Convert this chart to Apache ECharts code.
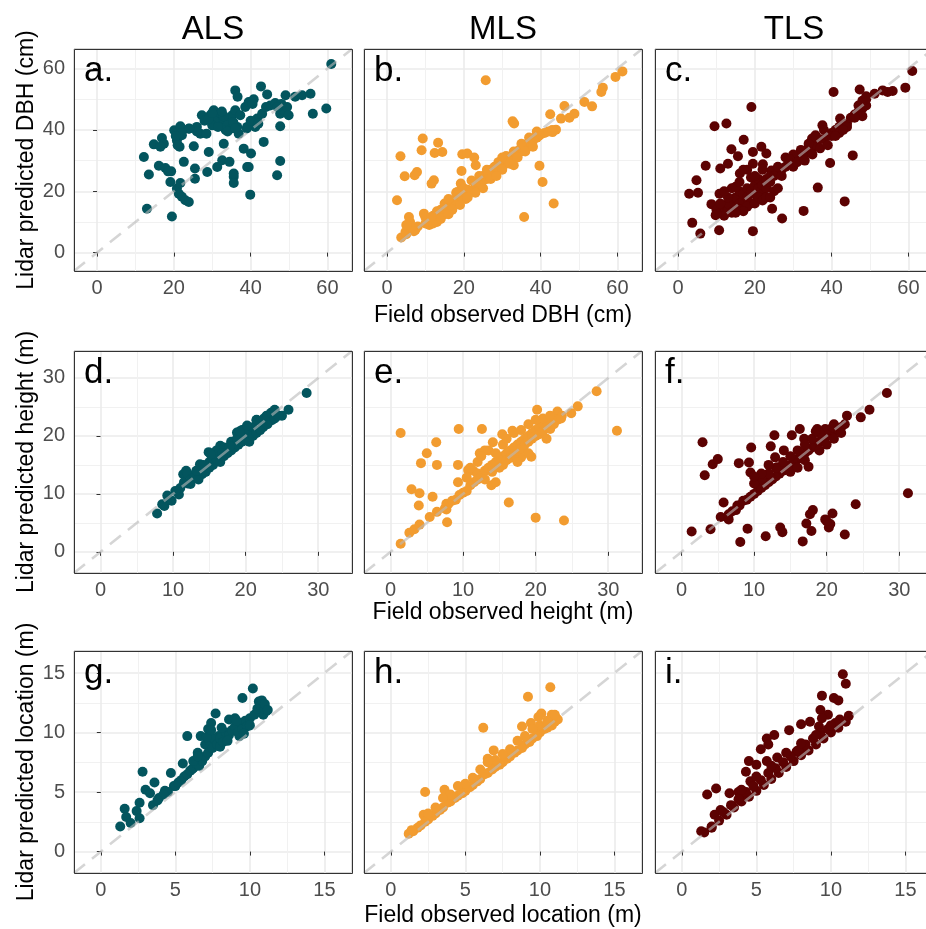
<!DOCTYPE html>
<html><head><meta charset="utf-8">
<script src="https://cdn.jsdelivr.net/npm/echarts@6/dist/echarts.min.js"></script>
<style>html,body{margin:0;padding:0;background:#fff}#c{width:926px;height:929px}</style>
</head><body><div id="c"></div>
<script>
// ---------------- data ----------------
const columns = ['ALS', 'MLS', 'TLS'];
const panelLetters = ['a.', 'b.', 'c.', 'd.', 'e.', 'f.', 'g.', 'h.', 'i.'];
const xTitles = ['Field observed DBH (cm)', 'Field observed height (m)', 'Field observed location (m)'];
const yTitles = ['Lidar predicted DBH (cm)', 'Lidar predicted height (m)', 'Lidar predicted location (m)'];
const axisRanges = [[-6, 66.4], [-3.65, 34.65], [-1.8, 16.85]];
const tickSteps = [20, 10, 5];
const colors = ['#03555E', '#F29C30', '#5C0202'];

const alsDBH = [[61,61.5],[12.2,31.2],[13.5,25.5],[13,14.3],[14.8,35.3],[16.9,37.4],[17.4,35.5],[16.5,34.5],[16.1,28.3],[17.8,27.6],[19.3,26.5],[19.1,23],[19.5,11.8],[20.1,39.9],[21.7,41.2],[20.8,36.6],[21.5,34.5],[22.1,38.3],[20.8,20.9],[21.7,22.7],[21.3,19.2],[22.1,18.2],[23,17.1],[23.9,16.5],[22.6,29.6],[25.2,34.7],[25.5,27.4],[25.5,24.1],[23.9,40.4],[26,41],[26.9,38.8],[27.3,44.8],[28.5,38.8],[28.7,26.3],[29.1,32.8],[29.5,44.8],[30.4,46.4],[31.1,43.7],[31.3,27.9],[32.1,45.3],[32.6,30.1],[33,35.5],[33.4,43.2],[33.9,42.1],[34.7,40.4],[34.5,29.6],[35.2,44.8],[35.6,24.7],[35.6,22.7],[36,52.9],[36.6,50.8],[36,46.4],[36.5,41],[36.9,38.8],[37.3,44.8],[38.2,33.9],[38.6,47.5],[39.1,41],[39.1,27.9],[39.5,27.9],[39.9,18.9],[40.1,32.3],[39.5,49.1],[40.8,50],[41.2,41],[41.7,43.7],[43,45.3],[43.4,36.1],[42.7,54.2],[44.3,51.6],[45.1,48],[46.4,48.8],[46.9,25.2],[47.7,29.9],[47.7,41.2],[47.7,45.3],[48.6,46.4],[49.1,51.3],[49.5,47.5],[49.9,44.8],[51.6,50.8],[53.4,51.3],[55.6,51.8],[56.2,45.3],[59.7,47],[31,44],[32,42],[33,44.5],[34,41.5],[30.5,43],[35.5,42.5],[32.5,46],[33.5,40],[28,43],[30,41.5],[34,39.5],[36,40.5],[31.5,41],[35.6,25.8],[26,39.5],[24,40.5],[22,39],[20.5,38],[21,35],[18.5,26.5],[39,40.5],[40,43],[42,42],[29,43.5],[30,45.5],[40.5,48.5],[48,48.5],[47,47.5],[44,47.5]];

const mlsDBH = [[25.7,56.2],[61.3,59.1],[59.5,57.3],[56.2,53.8],[55.8,52.4],[53.4,47.7],[51.4,49.1],[46.2,47.8],[42.5,45.1],[45.3,43.7],[47.5,44],[48.8,45.3],[32.7,42.8],[33.1,42.1],[9.3,37.2],[9,33.4],[13.3,35.8],[14.4,32.8],[12.4,32.5],[3.5,31.4],[4.6,24.9],[7.8,26.3],[7.2,25.2],[12.2,23.6],[11.6,22.5],[2.6,17.1],[3.7,4.9],[5.7,11.6],[5.7,7.8],[7.4,7.5],[4.8,6.7],[9.6,12.7],[10.9,9.5],[13.5,12.7],[19.6,32.1],[20.9,32.3],[22.7,31],[23.1,28.5],[19.4,26.6],[19.2,22.5],[18.3,19.8],[39.7,28.3],[40.5,23],[43.4,16],[35.7,11.6],[44,40.1],[43.1,39.3],[8,8.5],[10,9.5],[11,10],[12,10.5],[13,11.5],[14,12.5],[15,13.5],[16,14],[17,15.5],[18,16],[19,17],[20,18],[20.5,17.5],[21,19],[22,20],[22.5,20.5],[23,21.5],[24,22],[24.5,22.5],[25,23.5],[26,24],[26.5,25],[27,25.5],[28,26.5],[28.5,27],[29,27.5],[30,28.5],[30.5,29.5],[31,29],[31.5,30],[32,30.5],[32.5,31],[33,31.5],[34,32.5],[34.5,33.5],[35,33],[35.5,34],[36,34.5],[36.5,35.5],[37,35],[37.5,36],[38,36.5],[38.5,37.5],[39,37.5],[39.5,38],[40,38.5],[41,39],[42,39.5],[43,40],[16,15],[18,17.5],[19,18.5],[21,20.5],[23,23],[25,25],[27,27],[29,29.5],[31,31.5],[33,33],[35,35.5],[37,37.5],[39,39.5],[12,12],[14,14],[15,16],[17,17],[13,13.5],[24,25],[26,27],[28,28],[30,31],[22,23.5],[20,21],[18,19.5],[16,17.5],[25,21],[27,24],[30,27],[32,29],[34,31],[33,28.5],[36,33],[38,34.5],[28.5,25],[23,19.5],[21,18],[19,15.5],[17,14],[15,12.5],[13,10],[11,9],[10,11.5],[5,6],[6,8],[7,7],[6,10],[5,9],[12,9.5],[14,11],[16,12.5],[11.5,11.5]];

const tlsDBH = [[61,59.2],[59.2,53.8],[55.9,52.7],[54.6,52.4],[53.3,52.9],[51.2,51.8],[47.3,53.2],[40.5,52.4],[19.1,47.5],[9.5,41.2],[12.6,42.1],[17.1,36.8],[13.9,33.7],[15.6,31.4],[19.5,32.8],[21.7,34.5],[23,32.3],[7.2,28.3],[11,27.4],[13,29],[4.8,23.6],[5.2,19.5],[2.9,19.2],[3.7,9.7],[5.8,6.2],[10.7,7.3],[19.5,7],[10.8,19.2],[8.7,15.8],[9.8,12.2],[16.1,25.8],[19.5,29],[22.1,28.8],[24.3,26.8],[24.5,14.3],[27.1,11.1],[32.7,13.6],[36.4,21.2],[43.4,16.7],[39.6,29.2],[45.5,31.7],[37.6,41.5],[42.2,43.7],[34.9,37.2],[35.8,38.3],[10,14],[11,13],[12,15],[13,14],[14,17],[15,15],[15,18],[16,16],[16,20],[17,17],[17,19],[18,18],[18,21],[19,16],[19,20],[20,19],[20,22],[21,21],[21,24],[22,22],[22,19],[23,24],[23,21],[24,25],[24,23],[25,25],[26,26],[27,27],[27,25],[28,28],[29,29],[30,30],[30,28],[31,31],[32,31],[33,32],[34,34],[35,34],[36,35],[37,37],[38,37],[39,38],[40,39],[41,40],[42,41],[43,42],[44,42],[45,44],[46,45],[47,46],[48,47],[49,48],[49,50],[48,44.5],[46,44],[44,41],[42,39],[40,38],[38,40],[36,37.5],[34,35.5],[32,33.5],[30,32],[28,31],[26,28],[29,30.5],[31,29.5],[33,30],[35,32],[37,34],[39,35],[41,38],[43,40],[47,48],[48,49.5],[49,51],[12,12],[13,16],[14,13],[16,14],[18,15],[17,13.5],[15,13],[11,16],[10,12.5],[20,16],[21,18],[22,17],[23,18],[14,21],[15,21.5],[16,23],[19,24.5],[20,25],[18,27],[22,27],[25,20],[24,18],[26,21],[17,27],[13,18],[12,20]];

const alsHeight = [[7.8,6.6],[8.8,7.9],[9.2,9.7],[9.8,8.8],[10.8,9.9],[11.4,13.4],[11.8,14],[12.4,11.7],[13.7,15.1],[14,13.4],[14.9,17.2],[15.6,16.3],[16.5,18.3],[17.4,17.5],[18.3,18.6],[18.8,20.6],[19.5,19.2],[19.9,21.2],[20.8,20.1],[21.5,22.7],[22.4,21.5],[22.9,23.5],[23.6,22.7],[23.8,24.1],[25,23.5],[25.9,24.5],[28.4,27.4],[11,11],[11.5,12],[12,13.5],[12,11.8],[12.5,12.5],[13,13],[13.5,12.5],[14,14],[14.5,13.8],[15,14.5],[15,15.5],[15.5,15],[16,16],[16,17.5],[16.5,15.5],[17,16.5],[17,18],[17.5,17],[18,17.5],[18,19],[18.5,18],[19,18.5],[19,20],[19.5,19],[19.5,21],[20,20.5],[20,19.5],[20.5,19],[20.5,21],[21,20],[21,21.5],[21.5,22.8],[21.5,20.5],[22,21],[22,22.5],[22.5,23],[23,22],[23,23.5],[23.5,24],[24,23],[24,24.5],[24.5,23.5],[16.8,17],[17.8,18.2],[18.8,19.5],[19.2,20.8],[20.2,21.8],[15.2,16.8],[14.2,15],[13.2,14],[10.3,10.5],[9.5,9],[8.5,8.2]];

const mlsHeight = [[1.4,20.5],[1.4,1.4],[2.9,10.8],[4,10.1],[3.9,8],[2.6,3.3],[3.3,3.9],[4,4.7],[4.2,15.3],[5,17],[6.3,18.9],[6.4,15],[5.8,9.5],[5.4,6],[6.4,6.9],[7.8,5.1],[7.7,7.3],[7.7,8.3],[9.4,21.2],[9.3,15],[9.3,12],[12.6,21.2],[10.7,14.1],[11.4,14],[12.3,17],[13,17.5],[14.1,18.9],[13.9,11.5],[15.4,20.3],[16.3,8.5],[16.8,20.9],[19.4,16.4],[18,16.3],[20.2,24.5],[20,5.9],[23.9,5.4],[23,24.2],[23.6,23.5],[24.9,23.9],[25.8,25.1],[28.4,27.7],[31.2,20.9],[7.5,7.5],[8,8.3],[8.5,8.8],[9,9],[9.5,9.8],[10,10.2],[10.5,10.5],[11,11.5],[11.5,12],[12,12.5],[12,13.5],[12.5,13],[13,14],[13,12.5],[13.5,14.5],[14,15],[14,13.8],[14.5,15.5],[15,16],[15,14.5],[15.5,16.5],[15.5,15],[16,17],[16,15.8],[16.5,17.5],[16.5,16.2],[17,18],[17,16.8],[17.5,18.5],[17.5,17.5],[18,19],[18,17.8],[18.5,19.5],[18.5,18.5],[19,20],[19,19],[19.5,20.5],[19.5,19.5],[20,21],[20,20],[20.5,21.5],[20.5,20.3],[21,22],[21,20.8],[21.5,21.5],[22,22.5],[22,21.2],[22.5,22],[23,22.8],[23.5,23],[11,14.5],[10.5,12.8],[12,15.5],[13.5,17.5],[15.5,18.5],[17,20.5],[18,21],[16,19.5],[14.5,17],[12.5,16.5],[19,22],[21,23],[20,22.8],[22,23.5],[14.5,12],[17.5,15.5],[19,17],[21.5,19.5]];

const tlsHeight = [[28.3,27.4],[25.9,24.5],[24.7,23.2],[22.8,23.5],[31.2,10.1],[2.9,18.9],[3.2,13.2],[4.3,15.1],[5,16],[1.4,3.5],[4,3.9],[5.8,8.5],[5.4,6],[6.5,5.6],[7.7,8],[8.1,1.7],[9.1,4],[7.9,15.3],[9.6,18],[11.6,2.7],[13.6,4.2],[13.9,3.4],[16.7,1.8],[17.2,4.9],[17.9,3.6],[18.1,7.2],[17.7,6.5],[19.8,5.6],[20.3,4.2],[20.8,6.6],[20.5,4.8],[20,5.3],[22.5,3],[24,8.2],[12.8,20.1],[12.3,18.2],[14.1,17.5],[12.9,16.3],[15.2,20.1],[16.3,21.2],[16.9,19.5],[17.5,14.7],[18.7,21.2],[19.8,21.2],[9.3,15.4],[9.5,13.7],[10.7,12.8],[11.1,11.7],[13.2,14.6],[6.5,6.5],[7,7],[7.5,7.2],[8,8],[8.5,8.8],[9,9],[9.5,9.5],[10,10],[10.5,10.5],[11,11],[11.5,11.5],[12,12],[12.5,12.5],[13,13],[13.5,13.5],[14,14],[14.5,14.2],[15,15],[15.5,15.5],[16,16],[16.5,16.3],[17,17],[17.5,17.5],[18,18],[18.5,18.2],[19,19],[19.5,19.2],[20,20],[20.5,20.2],[21,20.8],[21.5,21.2],[22,21.5],[22.5,22],[14,15.5],[16,17.5],[18,19.5],[20,21],[21,22],[19,20.5],[17,18.5],[15,16.5],[13,14.5],[12,13.5],[11,12.5],[10,11.8],[15,13.8],[17,15.8],[19,17.5],[21,19.5],[16,14.5],[11,13.5],[10,13],[12,15],[20,18.5],[22,20.5],[18.5,20.8],[20.8,21.5]];

const alsLocation = [[1.3,2.1],[1.6,3.6],[1.7,2.9],[2,2.4],[2.4,3.4],[2.6,4.1],[2.6,2.8],[2.8,6.7],[3,5.2],[3.3,4.9],[3.6,5.8],[3.5,3.9],[3.9,4.5],[4.3,5.1],[4.7,6.6],[4.9,5.5],[5.4,6],[5.5,7.4],[5.8,9.7],[6.1,6.9],[6.5,8.3],[6.7,9.7],[7.2,10.3],[7.4,10.8],[7.7,11.6],[7.9,9.7],[8.6,11.1],[9,11.2],[9.5,12.9],[10.2,13.7],[10.6,12.6],[11.1,11.8],[10.9,11.5],[9.3,9.7],[5,5.5],[5.2,5.8],[5.6,6.3],[5.8,6.5],[6,6.8],[6.2,7],[6.4,7.4],[6.6,7.2],[6.8,7.6],[7,8],[7,9],[7.2,8.3],[7.3,9.3],[7.5,8.7],[7.6,9.5],[7.8,9],[8,8.8],[8,9.5],[8.2,9.2],[8.4,10],[8.6,9.8],[8.8,10.2],[9,10.5],[9.2,10],[9.4,10.8],[9.5,10.3],[9.7,11],[9.8,10.5],[10,11.2],[10,10.6],[10.3,11.5],[10.5,12],[10.7,12.3],[10.8,12.7],[11,12],[11,12.4],[11.2,11.9],[6.2,7.6],[7.1,9.6],[8.1,10.4],[9.1,11],[4.5,5],[4.2,4.8],[3.8,4.3],[6.5,8],[7.4,10.2],[8.5,9.3],[9.6,9.9]];

const mlsLocation = [[10.7,13.8],[9.2,13],[6.2,10.4],[6.9,8.5],[6.5,7.8],[2.3,5],[2.2,3.1],[3.6,5.2],[3.7,4.6],[10.1,11.6],[9.9,11.3],[8.8,10.5],[9.4,10.8],[10.8,11.5],[11.1,11.2],[1.2,1.5],[1.5,1.7],[2,2.2],[2.5,2.7],[3,3.2],[3.5,3.7],[4,4.2],[4.5,4.7],[5,5.1],[5.5,5.6],[6,6.1],[6.5,6.6],[7,7.1],[7.5,7.5],[8,8],[8.5,8.5],[9,9],[9.5,9.5],[10,10],[10.5,10.4],[11,10.9],[1.8,2],[2.3,2.5],[2.8,3],[3.3,3.5],[3.8,4.1],[4.3,4.5],[4.8,4.9],[5.3,5.4],[5.8,5.9],[6.3,6.5],[6.8,6.9],[7.3,7.3],[7.8,7.8],[8.3,8.3],[8.8,8.7],[9.3,9.2],[9.8,9.7],[10.3,10.3],[10.8,10.6],[11.2,11.1],[3,3.7],[4,4.8],[5,5.7],[6,6.9],[7,7.7],[8,8.6],[9,9.7],[10,10.6],[4.5,5.5],[6.5,7.5],[8.5,9.3],[9.5,10.3],[2.5,3.2],[3.5,4.5],[5.5,6.2],[7.5,8.2],[10.5,11],[1.4,1.8],[11,11.5]];

const tlsLocation = [[10.8,14.9],[11,14.1],[9.4,13.1],[10.2,12.9],[10.5,12.7],[9.3,11.9],[9.8,11.5],[8.6,10.9],[8,10.7],[7.2,10.2],[6.2,9.8],[5.7,9.5],[5.8,9],[5.3,8.6],[4.5,7.6],[5,7.3],[5.7,7.6],[4.3,6.7],[4.6,5.9],[6.4,7.9],[1.7,4.8],[2.3,5.3],[3.2,4.9],[1.3,1.7],[2,2],[2.2,3.1],[2.6,3.5],[3.8,5],[3.9,4.5],[7.7,8.4],[8.2,8.7],[9.2,10.5],[9.4,11.2],[10.6,11.1],[11.2,11.4],[1.5,1.6],[2,2.1],[2.5,2.6],[3,3.1],[3.5,3.7],[4,4.2],[4.5,4.6],[5,5.1],[5.5,5.6],[6,6.1],[6.5,6.6],[7,7.1],[7.5,7.6],[8,8.1],[8.5,8.5],[9,9],[9.5,9.5],[10,10],[10.5,10.4],[11,10.9],[2.8,3.3],[3.3,3.9],[3.8,4.4],[4.3,5],[4.8,5.5],[5.3,6],[5.8,6.6],[6.3,7],[6.8,7.5],[7.3,8],[7.8,8.5],[8.3,9],[8.8,9.5],[9.3,9.9],[9.8,10.3],[10.3,10.8],[6,7.2],[7,8.3],[8,9.1],[9,9.8],[10,10.6],[5,6.3],[4,5.2]];

const panelData = [alsDBH, mlsDBH, tlsDBH, alsHeight, mlsHeight, tlsHeight, alsLocation, mlsLocation, tlsLocation];

// ---------------- layout ----------------
const FONT = "'Liberation Sans', Arial, sans-serif";
const colLeft = [74, 364, 655];
const rowTop = [49, 351, 651];
const PW = 278, PH = 222;

const grids = [], xAxes = [], yAxes = [], series = [], graphics = [];

function makeAxis(dim, row, col, idx) {
  const [lo, hi] = axisRanges[row];
  const step = tickSteps[row];
  const showLab = dim === 'x' || col === 0;
  return {
    type: 'value', gridIndex: idx, min: lo, max: hi,
    minInterval: step, maxInterval: step, splitNumber: 4,
    axisLine: { show: false },
    axisTick: { show: showLab, length: 4, lineStyle: { color: '#333333', width: 1 } },
    axisLabel: {
      show: showLab, color: '#4D4D4D', fontSize: 20, fontFamily: FONT,
      margin: dim === 'x' ? 7 : 9,
      formatter: v => (Math.abs(v / step - Math.round(v / step)) < 1e-6 ? String(Math.round(v)) : '')
    },
    splitLine: { show: true, lineStyle: { color: '#EBEBEB', width: 1.6 } },
    minorTick: { show: false, splitNumber: 2 },
    minorSplitLine: { show: true, lineStyle: { color: '#F1F1F1', width: 1 } }
  };
}

for (let row = 0; row < 3; row++) {
  for (let col = 0; col < 3; col++) {
    const idx = row * 3 + col;
    grids.push({ left: colLeft[col], top: rowTop[row], width: PW, height: PH, show: true,
      backgroundColor: '#fff', borderColor: '#333', borderWidth: 1,
      containLabel: false, outerBoundsMode: 'none' });
    xAxes.push(makeAxis('x', row, col, idx));
    yAxes.push(makeAxis('y', row, col, idx));
    const [lo, hi] = axisRanges[row];
    series.push({
      type: 'scatter', xAxisIndex: idx, yAxisIndex: idx, data: panelData[idx],
      symbol: 'circle', symbolSize: 10, itemStyle: { color: colors[col], opacity: 1 },
      silent: true, z: 2, clip: true
    });
    series.push({
      type: 'line', xAxisIndex: idx, yAxisIndex: idx, data: [[lo, lo], [hi, hi]],
      symbol: 'none', silent: true, z: 3, clip: true,
      lineStyle: { color: 'rgba(185,185,185,0.6)', width: 2.6, type: [14, 9] }
    });
    graphics.push({ type: 'rect', z: 50, silent: true,
      shape: { x: colLeft[col] + 0.5, y: rowTop[row] + 0.5, width: PW, height: PH },
      style: { fill: null, stroke: '#333333', lineWidth: 1 } });
    graphics.push({ type: 'text', z: 60, silent: true,
      x: colLeft[col] + 10, y: rowTop[row] + 22,
      style: { text: panelLetters[idx], fontSize: 35, fontFamily: FONT, fill: '#000',
        align: 'left', verticalAlign: 'middle' } });
  }
}

columns.forEach((t, col) => {
  graphics.push({ type: 'text', z: 60, silent: true, x: colLeft[col] + PW / 2, y: 30,
    style: { text: t, fontSize: 33, fontFamily: FONT, fill: '#000', align: 'center', verticalAlign: 'middle' } });
});
const xTitleY = [316, 613, 916];
xTitles.forEach((t, row) => {
  graphics.push({ type: 'text', z: 60, silent: true, x: colLeft[1] + PW / 2, y: xTitleY[row],
    style: { text: t, fontSize: 23, fontFamily: FONT, fill: '#000', align: 'center', verticalAlign: 'middle' } });
});
yTitles.forEach((t, row) => {
  graphics.push({ type: 'text', z: 60, silent: true, x: 27, y: rowTop[row] + PH / 2, rotation: Math.PI / 2,
    style: { text: t, fontSize: 23, fontFamily: FONT, fill: '#000', align: 'center', verticalAlign: 'middle' } });
});

const chart = echarts.init(document.getElementById('c'), null, { renderer: 'canvas' });
chart.setOption({
  animation: false,
  backgroundColor: '#ffffff',
  grid: grids, xAxis: xAxes, yAxis: yAxes, series: series, graphic: graphics
});
</script></body></html>
